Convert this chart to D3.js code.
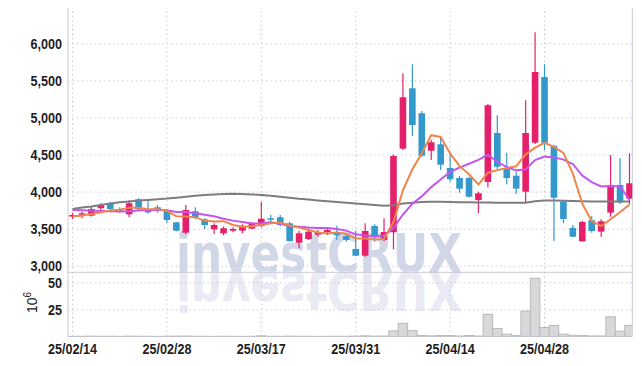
<!DOCTYPE html>
<html>
<head>
<meta charset="utf-8">
<script src="https://cdn.jsdelivr.net/npm/d3@7"></script>
<style>
	body { margin: 0; background: #fff; }
	svg { display: block; font-family: "Liberation Sans", Arial, sans-serif; }
	.grid line { stroke: #c9cbdc; stroke-dasharray: 1.5 3; }
	.grid .domain { display: none; }
	.grid text { fill: #1e1e1e; font-size: 15px; font-weight: bold; }
</style>
</head>
<body>
<svg id="chart" width="642" height="366"></svg>
<script>
// trading days (KRX), yy/mm/dd
var dates = ["25/02/14","25/02/17","25/02/18","25/02/19","25/02/20","25/02/21","25/02/24","25/02/25","25/02/26","25/02/27",
	"25/02/28","25/03/04","25/03/05","25/03/06","25/03/07","25/03/10","25/03/11","25/03/12","25/03/13","25/03/14",
	"25/03/17","25/03/18","25/03/19","25/03/20","25/03/21","25/03/24","25/03/25","25/03/26","25/03/27","25/03/28",
	"25/03/31","25/04/01","25/04/02","25/04/03","25/04/04","25/04/07","25/04/08","25/04/09","25/04/10","25/04/11",
	"25/04/14","25/04/15","25/04/16","25/04/17","25/04/18","25/04/21","25/04/22","25/04/23","25/04/24","25/04/25",
	"25/04/28","25/04/29","25/04/30","25/05/02","25/05/07","25/05/08","25/05/09","25/05/12","25/05/13","25/05/14"];

var opens = [3662,3693,3675,3775,3842,3765,3693,3896,3765,3788,
	3742,3585,3445,3734,3626,3491,3437,3472,3472,3500,
	3535,3640,3653,3572,3310,3360,3418,3451,3455,3400,
	3225,3135,3535,3347,3451,4579,5393,5056,4551,4638,
	4318,4183,4183,3886,4129,4790,4308,4214,3998,4659,
	5546,4615,3863,3509,3329,3613,3459,3715,4089,3904];
var highs = [3715,3728,3796,3842,3860,3790,3886,3910,3896,3819,
	3765,3590,3819,3788,3640,3572,3530,3520,3560,3590,
	3859,3684,3684,3594,3470,3505,3482,3505,3535,3424,
	3472,3572,3560,3640,4500,5596,5717,5087,4696,4750,
	4520,4210,4200,3998,5180,5029,4525,4268,5231,6149,
	5717,4630,3880,3549,3607,3675,3626,4493,4449,4516];
var lows = [3630,3640,3665,3707,3720,3715,3653,3751,3700,3715,
	3580,3465,3420,3626,3491,3428,3410,3450,3437,3491,
	3520,3594,3530,3324,3235,3347,3391,3414,3347,3324,
	3130,3120,3324,3330,3221,4560,4750,4470,4426,4291,
	4133,3985,3920,3707,4058,4300,4098,3967,3850,4640,
	4561,3333,3572,3383,3324,3445,3391,3661,3832,3828];
var closes = [3684,3707,3765,3815,3765,3728,3842,3761,3720,3765,
	3617,3472,3751,3653,3549,3549,3505,3495,3535,3572,
	3634,3626,3549,3333,3437,3459,3455,3482,3410,3347,
	3135,3468,3400,3455,4480,5272,4898,4484,4665,4362,
	4166,4039,3931,3977,5164,4335,4183,4039,4790,5613,
	4659,3917,3630,3391,3590,3468,3599,4089,3855,4112];

// volume, millions of shares
var volume = [0.2,0.2,0.3,0.2,0.2,0.1,0.3,0.2,0.2,0.1,
	0.2,0.3,0.4,0.2,0.2,0.1,0.2,0.1,0.1,0.2,
	0.6,0.2,0.2,0.3,0.2,0.2,0.1,0.1,0.2,0.2,
	0.3,0.6,0.3,0.4,5.2,12.2,5.4,0.9,0.6,0.9,
	0.8,0.5,0.9,0.5,20.5,7.4,2.1,1.0,23.4,53.7,
	8.3,10.2,2.1,1.2,0.9,0.5,0.5,18.2,4.9,10.2];

// moving averages
var ma5 = [3665,3678,3697,3722,3745,3755,3783,3782,3763,3763,
	3741,3667,3665,3652,3608,3595,3601,3550,3527,3531,
	3548,3572,3583,3543,3516,3481,3447,3433,3449,3431,
	3366,3368,3352,3361,3588,4015,4301,4518,4760,4736,
	4515,4343,4233,4095,4255,4289,4318,4340,4502,4592,
	4657,4604,4522,4242,3837,3599,3536,3627,3720,3825];
var ma10 = [3750,3748,3742,3738,3733,3730,3735,3745,3752,3754,
	3748,3725,3724,3707,3686,3668,3634,3608,3589,3570,
	3572,3587,3567,3535,3524,3515,3510,3508,3496,3473,
	3423,3408,3393,3405,3509,3690,3835,3935,4060,4162,
	4265,4322,4375,4427,4496,4402,4331,4286,4299,4424,
	4473,4461,4431,4372,4215,4128,4070,4075,4070,3890];
var ma60 = [3765,3785,3800,3820,3840,3855,3865,3878,3886,3895,
	3905,3918,3931,3944,3952,3960,3968,3972,3968,3962,
	3955,3945,3930,3915,3902,3892,3880,3868,3858,3848,
	3840,3830,3820,3808,3815,3840,3850,3858,3862,3862,
	3860,3857,3855,3853,3852,3850,3848,3848,3850,3868,
	3878,3878,3875,3872,3868,3866,3865,3865,3866,3866];

var priceTicks = [3000, 3500, 4000, 4500, 5000, 5500, 6000];
var volTicks = [25, 50];
var dateTicks = dates.filter(function(d, i) { return i % 10 === 0; });

(function() {
	var upColor = "#e5206b",
		downColor = "#3398cb";

	var svg = d3.select("#chart");
	var left = 68, right = 632.3, plotTop = 8, split = 272.3, bottom = 336.5;

	var x = d3.scaleBand().domain(dates).range([67.8, 67.8 + 60 * 9.44]).padding(0);
	var y = d3.scaleLinear().domain([2911, 6476]).range([split, plotTop]);
	var yv = d3.scaleLinear().domain([0, 59.2]).range([bottom, split]);

	function cx(i) { return x(dates[i]) + x.bandwidth() / 2; }

	svg.append("clipPath").attr("id", "plot")
		.append("rect").attr("x", left).attr("y", plotTop).attr("width", right - left).attr("height", bottom - plotTop);

	// watermark + its reflection under the split line
	var wm = svg.append("g").attr("clip-path", "url(#plot)");
	wm.append("text")
		.attr("x", 176).attr("y", split)
		.attr("textLength", 286).attr("lengthAdjust", "spacingAndGlyphs")
		.style("font-family", "'DejaVu Sans', sans-serif").style("font-weight", "bold")
		.style("font-size", "54px").style("fill", "#d2d7e7")
		.text("investCRUX");
	wm.append("text")
		.attr("x", 176).attr("y", -split)
		.attr("transform", "scale(1,-1)")
		.attr("textLength", 286).attr("lengthAdjust", "spacingAndGlyphs")
		.style("font-family", "'DejaVu Sans', sans-serif").style("font-weight", "bold")
		.style("font-size", "54px").style("fill", "#e9eaf3")
		.text("investCRUX");

	// grids & axes
	svg.append("g").attr("class", "grid")
		.attr("transform", "translate(" + left + ",0)")
		.call(d3.axisLeft(y).tickValues(priceTicks).tickSize(-(right - left)).tickPadding(6).tickFormat(d3.format(",")));
	svg.append("g").attr("class", "grid")
		.attr("transform", "translate(" + left + ",0)")
		.call(d3.axisLeft(yv).tickValues(volTicks).tickSize(-(right - left)).tickPadding(6));
	svg.append("g").attr("class", "grid")
		.attr("transform", "translate(0," + bottom + ")")
		.call(d3.axisBottom(x).tickValues(dateTicks).tickSize(-(bottom - plotTop)).tickPadding(7));

	// squeeze the tick labels, the original font is condensed
	svg.selectAll(".grid text").each(function() {
		var w = this.getComputedTextLength();
		d3.select(this).attr("textLength", w * 0.84).attr("lengthAdjust", "spacingAndGlyphs");
	});

	// frame
	var frame = svg.append("g").style("stroke", "#c8cad6").style("stroke-width", 1);
	frame.append("line").attr("x1", left).attr("x2", left).attr("y1", plotTop).attr("y2", bottom);
	frame.append("line").attr("x1", right).attr("x2", right).attr("y1", plotTop).attr("y2", bottom);
	frame.append("line").attr("x1", left).attr("x2", right).attr("y1", split).attr("y2", split);
	frame.append("line").attr("x1", left).attr("x2", right).attr("y1", bottom).attr("y2", bottom);

	// 10^6 label
	svg.append("text")
		.attr("transform", "translate(37,313) rotate(-90)")
		.style("font-size", "14px").style("fill", "#222")
		.text("10")
		.append("tspan").attr("dy", -6).style("font-size", "10px").text("6");

	var plot = svg.append("g").attr("clip-path", "url(#plot)");

	// volume bars
	plot.selectAll(".vol").data(volume).enter().append("rect")
		.attr("x", function(d, i) { return x(dates[i]); })
		.attr("width", x.bandwidth())
		.attr("y", function(d) { return yv(d); })
		.attr("height", function(d) { return bottom - yv(d); })
		.style("fill", "#d8d8da").style("stroke", "#b9b9bd").style("stroke-width", 1);

	// candles
	var bw = x.bandwidth() * 0.7;
	var candles = plot.selectAll(".candle").data(closes).enter().append("g");
	candles.append("line")
		.attr("x1", function(d, i) { return cx(i); })
		.attr("x2", function(d, i) { return cx(i); })
		.attr("y1", function(d, i) { return y(highs[i]); })
		.attr("y2", function(d, i) { return y(lows[i]); })
		.style("stroke", function(d, i) { return d >= opens[i] ? upColor : downColor; })
		.style("stroke-width", 1.2);
	candles.append("rect")
		.attr("x", function(d, i) { return cx(i) - bw / 2; })
		.attr("width", bw)
		.attr("y", function(d, i) { return y(Math.max(d, opens[i])); })
		.attr("height", function(d, i) { return Math.max(1.5, Math.abs(y(d) - y(opens[i]))); })
		.style("fill", function(d, i) { return d >= opens[i] ? upColor : downColor; });

	// moving averages
	var line = d3.line()
		.x(function(d, i) { return cx(i); })
		.y(function(d) { return y(d); });
	plot.append("path").datum(ma60).attr("d", line)
		.style("fill", "none").style("stroke", "#7d7d7d").style("stroke-width", 2);
	plot.append("path").datum(ma10).attr("d", line)
		.style("fill", "none").style("stroke", "#c455ee").style("stroke-width", 2);
	plot.append("path").datum(ma5).attr("d", line)
		.style("fill", "none").style("stroke", "#f0854c").style("stroke-width", 2);
})();
</script>
</body>
</html>
